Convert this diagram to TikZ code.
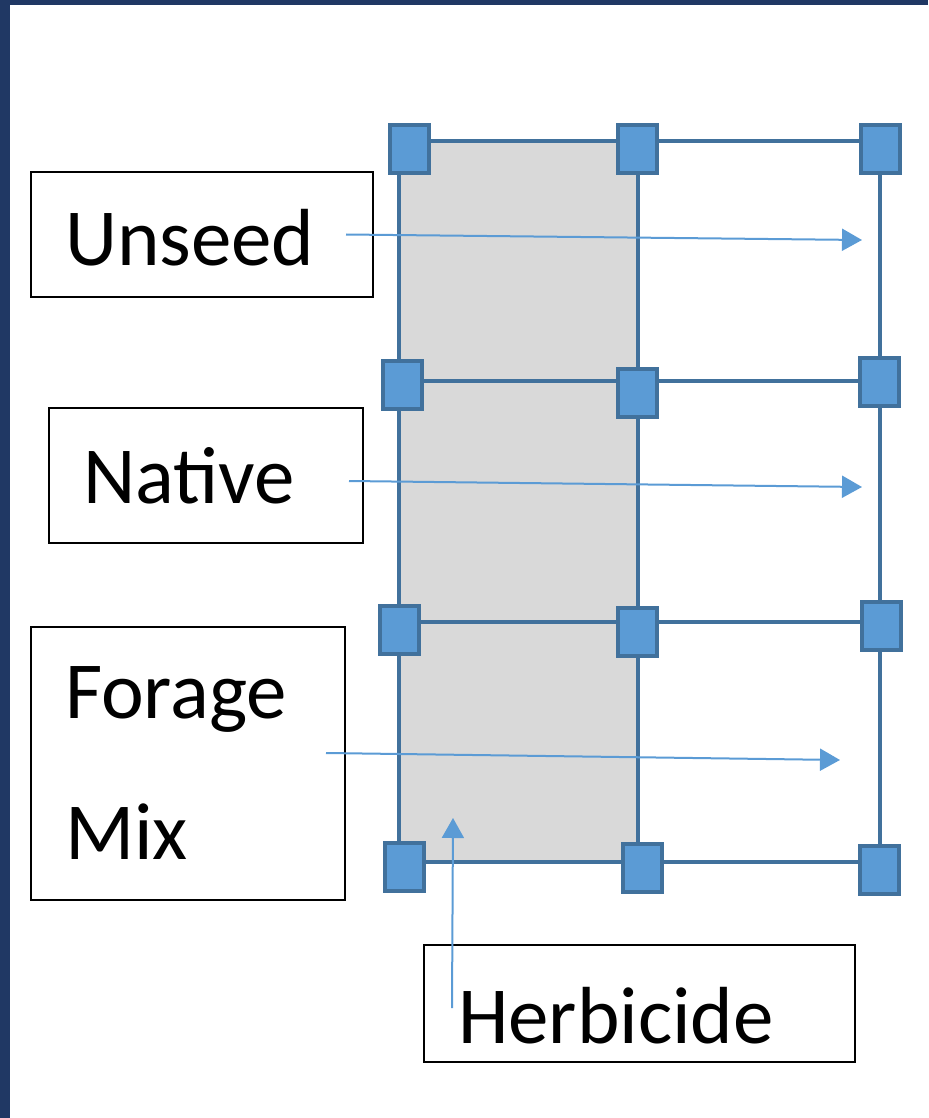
\documentclass[tikz,border=0pt]{standalone}
\usepackage{fontspec}
\setmainfont{Carlito}
\usetikzlibrary{arrows.meta}
\definecolor{handlefill}{HTML}{5B9BD5}
\definecolor{handleline}{HTML}{41719C}
\definecolor{plotgray}{HTML}{D9D9D9}
\definecolor{framenavy}{HTML}{203864}
\begin{document}
\begin{tikzpicture}[
    x=0.5pt, y=-0.5pt,
    lbl/.style={rectangle, draw=black, line width=1pt, inner xsep=17pt, inner ysep=0pt, align=left, font=\fontsize{40.5}{70.5}\selectfont},
    handle/.style={rectangle, fill=handlefill, draw=handleline, line width=2pt, minimum width=19.5pt, minimum height=24pt, inner sep=0pt},
    gridline/.style={draw=handleline, line width=2.4pt},
    pointer/.style={draw=handlefill, line width=1pt, -{Triangle[length=10pt, width=11pt]}}
]
\useasboundingbox (0,0) rectangle (928,1118);
% Рамка
\fill[framenavy] (0,0) rectangle (10,1118);
\fill[framenavy] (0,0) rectangle (928,5);

% Участки
\fill[plotgray] (399,141) rectangle (638,862);
\draw[gridline] (399,141) rectangle (880,862);
\draw[gridline] (638,141) -- (638,862);
\draw[gridline] (399,381) -- (880,381);
\draw[gridline] (399,622) -- (880,622);

% Маркеры, ряд 1
\node[handle] (h11) at (409,149) {};
\node[handle] (h12) at (637,149) {};
\node[handle] (h13) at (880,149) {};

% Маркеры, ряд 2
\node[handle] (h21) at (402,385) {};
\node[handle] (h22) at (637,393) {};
\node[handle] (h23) at (879,382) {};

% Маркеры, ряд 3
\node[handle] (h31) at (399,630) {};
\node[handle] (h32) at (637,632) {};
\node[handle] (h33) at (881,626) {};

% Маркеры, ряд 4
\node[handle] (h41) at (404,867) {};
\node[handle] (h42) at (642,868) {};
\node[handle] (h43) at (879,870) {};

% Подписи
\node[lbl, text width=137pt, minimum height=62.5pt, text height=31.5pt] (unseed) at (202,234.5) {Unseed};
\node[lbl, text width=123pt, minimum height=67.5pt] (native) at (206,475.5) {Native};
\node[lbl, text width=123pt, minimum height=136.5pt] (forage) at (188,763.5) {Forage\\Mix};
\node[lbl, text width=181.5pt, minimum height=58.5pt, text height=40pt] (herbicide) at (639.5,1003.5) {Herbicide};

% Концы стрелок
\coordinate (unseed tip) at (862,240);
\coordinate (native tip) at (862,487);
\coordinate (forage tip) at (840,760);
\coordinate (herbicide tip) at (453,818);

% Стрелки
\draw[pointer] (unseed.east) ++(-28,0) -- (unseed tip);
\draw[pointer] (native.east) ++(-15,5.5) -- (native tip);
\draw[pointer] (forage.east) ++(-20,-10.5) -- (forage tip);
\draw[pointer] (herbicide.west) ++(29,4.5) -- (herbicide tip);
\end{tikzpicture}
\end{document}
